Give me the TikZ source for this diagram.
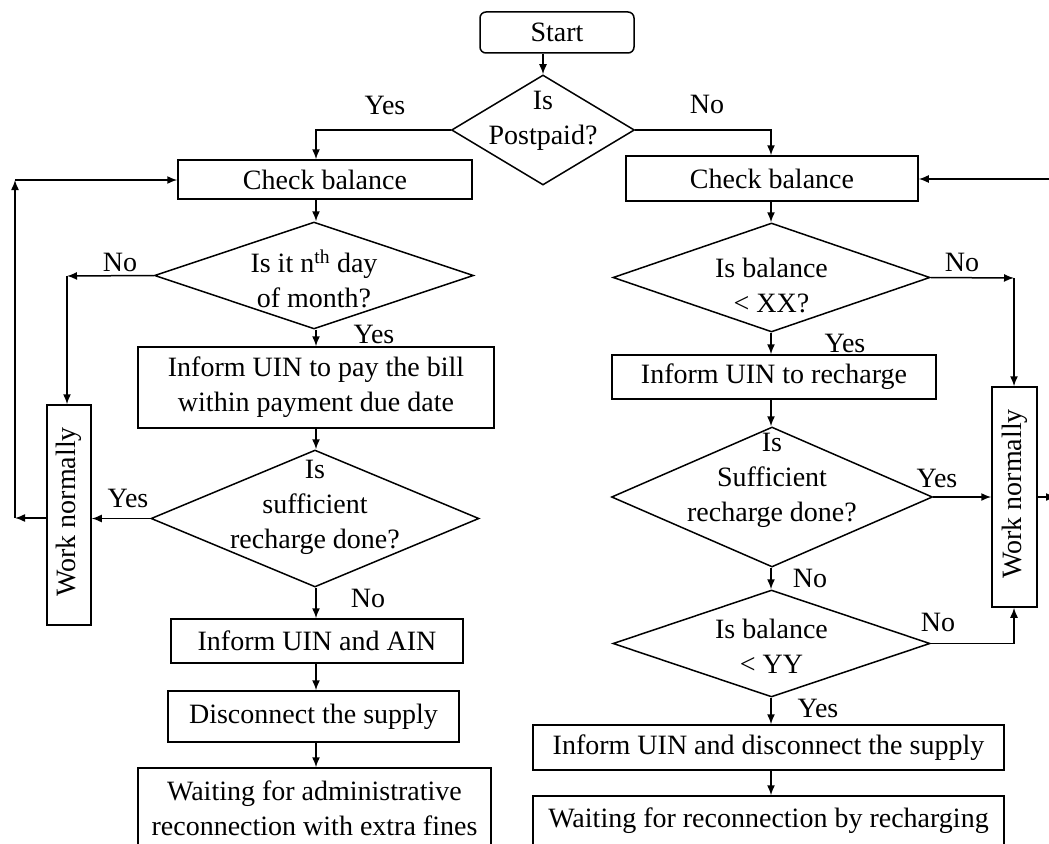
\documentclass[tikz,border=0pt]{standalone}
\usepackage{fontspec}
\setmainfont{Liberation Serif}
\usetikzlibrary{arrows.meta,shapes.geometric}
\begin{document}
\begin{tikzpicture}[x=1pt,y=-1pt,
  every node/.style={font=\fontsize{28}{35}\selectfont, inner sep=0pt, align=center},
  box/.style={draw, line width=1.5pt, rectangle},
  dia/.style={draw, line width=1.5pt, diamond},
  arr/.style={line width=1.5pt, -{Latex[length=10pt,width=8pt]}},
  plain/.style={line width=1.5pt}]
\clip (0,0) rectangle (1049,843);
\fill[white] (0,0) rectangle (1049,843);
\coordinate (L) at (316,0);
\coordinate (R) at (771,0);
% top
\node[box, rounded corners=6pt, minimum width=154pt, minimum height=41pt] (start) at (557,32.5) {Start};
\node[dia, minimum width=183pt, minimum height=110pt] (d1) at (543,130) {};
\node (d1t) at (543,121) {Is\\Postpaid?};
% left column
\node[box, minimum width=294pt, minimum height=39pt] (cb1) at (325,179.5) {Check balance};
\node[dia, minimum width=319pt, minimum height=107pt] (d2) at (314,275.5) {};
\node (d2t) at (314,279) {Is it n\textsuperscript{th} day\\of month?};
\node[box, minimum width=356pt, minimum height=81pt] (bill) at (316,387.5) {Inform UIN to pay the bill\\within payment due date};
\node[dia, minimum width=328pt, minimum height=137pt] (d3) at (315,518.5) {};
\node (d3t) at (315,507) {Is\\sufficient\\recharge done?};
\node[box, minimum width=292pt, minimum height=44pt] (ain) at (317,641) {Inform UIN and AIN};
\node[box, minimum width=291pt, minimum height=51pt] (disc1) at (313.5,716.5) {Disconnect the supply};
\node[box, minimum width=353pt, minimum height=80pt] (wait1) at (314.5,808) {Waiting for administrative\\reconnection with extra fines};
\node[box, minimum width=44pt, minimum height=220pt] (wn1) at (69,515) {};
\node[rotate=90] (wn1t) at (69,512) {Work normally};
% right column
\node[box, minimum width=292pt, minimum height=45pt] (cb2) at (772,178.5) {Check balance};
\node[dia, minimum width=317pt, minimum height=109pt] (dxx) at (771.5,277.5) {};
\node (dxxt) at (771.5,285) {Is balance\\< XX?};
\node[box, minimum width=324pt, minimum height=44pt] (rech) at (774,377) {Inform UIN to recharge};
\node[dia, minimum width=321pt, minimum height=140pt] (dsuf) at (772,497) {};
\node (dsuft) at (772,480) {Is\\Sufficient\\recharge done?};
\node[dia, minimum width=317pt, minimum height=107pt] (dyy) at (771.5,643.5) {};
\node (dyyt) at (771.5,646) {Is balance\\< YY};
\node[box, minimum width=471pt, minimum height=45pt] (disc2) at (768.5,747.5) {Inform UIN and disconnect the supply};
\node[box, minimum width=471pt, minimum height=50pt] (wait2) at (768.5,821) {Waiting for reconnection by recharging};
\node[box, minimum width=45pt, minimum height=220pt] (wn2) at (1014.5,497) {};
\node[rotate=90] (wn2t) at (1014.5,494) {Work normally};
% labels
\node (y1) at (385,105) {Yes};
\node (n1) at (707,104) {No};
\node (n2) at (120,262) {No};
\node (y2) at (374,334) {Yes};
\node (y3) at (128,498) {Yes};
\node (n3) at (368,598) {No};
\node (n4) at (962,262) {No};
\node (y4) at (845,343) {Yes};
\node (y5) at (937,478) {Yes};
\node (n5) at (810,578) {No};
\node (n6) at (938,622) {No};
\node (y6) at (818,708) {Yes};
% connectors top
\draw[arr] (start.south -| d1.north) -- (d1.north);
\draw[arr] (d1.west) -| (cb1.north -| L);
\draw[arr] (d1.east) -| (cb2.north -| R);
% left
\draw[arr] (cb1.south -| L) -- (d2.north -| L);
\draw[arr] (d2.south -| L) -- (bill.north -| L);
\draw[arr] (bill.south -| L) -- (d3.north -| L);
\draw[arr] (d3.south -| L) -- (ain.north -| L);
\draw[arr] (ain.south -| L) -- (disc1.north -| L);
\draw[arr] (disc1.south -| L) -- (wait1.north -| L);
\coordinate (lno) at (67,276);
\draw[arr] (d2.west) -- (lno);
\draw[arr] (lno) -- (wn1.north -| lno);
\draw[arr] (d3.west) -- (d3.west -| wn1.east);
\coordinate (lb) at (15,518);
\coordinate (lt) at (15,180);
\draw[arr] (wn1.west |- lb) -- (lb);
\draw[arr] (lb) -- (lt);
\draw[arr] (lt) -- (cb1.west |- lt);
% right
\draw[arr] (cb2.south -| R) -- (dxx.north -| R);
\draw[arr] (dxx.south -| R) -- (rech.north -| R);
\draw[arr] (rech.south -| R) -- (dsuf.north -| R);
\draw[arr] (dsuf.south -| R) -- (dyy.north -| R);
\draw[arr] (dyy.south -| R) -- (disc2.north -| R);
\draw[arr] (disc2.south -| R) -- (wait2.north -| R);
\coordinate (rno) at (1014,278);
\draw[arr] (dxx.east) -- (rno);
\draw[arr] (rno) -- (wn2.north -| rno);
\draw[arr] (dsuf.east) -- (dsuf.east -| wn2.west);
\draw[arr] (dyy.east) -| (wn2.south -| rno);
\coordinate (re1) at (1056,497);
\coordinate (re2) at (1062,179);
\draw[arr] (wn2.east) -- (re1);
\draw[arr] (re2) -- (cb2.east |- re2);
\end{tikzpicture}
\end{document}
